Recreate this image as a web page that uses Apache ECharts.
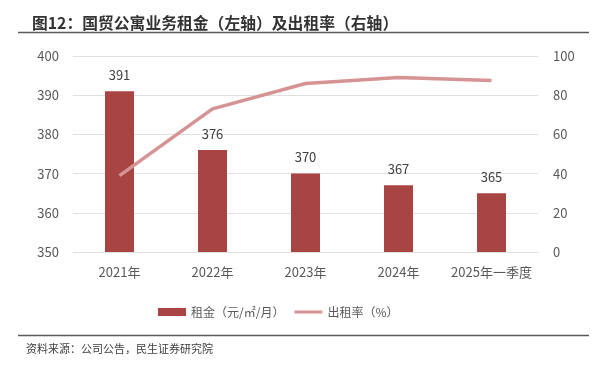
<!DOCTYPE html>
<html><head><meta charset="utf-8">
<script src="https://cdn.jsdelivr.net/npm/echarts@6/dist/echarts.min.js"></script>
<style>html,body{margin:0;padding:0;background:#fff}#c{width:599px;height:367px}</style>
</head><body><div id="c"></div>
<script>
const categories = ['2021年','2022年','2023年','2024年','2025年一季度'];
const rentValues = [391, 376, 370, 367, 365];
const occupancyValues = [39, 73, 86, 89, 87.5];
const leftTicks = {min: 350, max: 400, interval: 10};
const rightTicks = {min: 0, max: 100, interval: 20};

const FONT = '"Microsoft YaHei","Noto Sans CJK SC","Noto Sans",sans-serif';
const chart = echarts.init(document.getElementById('c'), null, {renderer: 'canvas'});
chart.setOption({
  animation: false,
  textStyle: {fontFamily: FONT},
  title: {
    text: '图12：国贸公寓业务租金（左轴）及出租率（右轴）',
    left: 27, top: 10,
    textStyle: {fontSize: 15.8, fontWeight: 'bold', color: '#333', fontFamily: FONT}
  },
  graphic: [
    {type: 'line', shape: {x1: 18, y1: 32.5, x2: 589, y2: 32.5}, style: {stroke: '#595959', lineWidth: 1.5}},
    {type: 'line', shape: {x1: 18, y1: 335.5, x2: 589, y2: 335.5}, style: {stroke: '#595959', lineWidth: 1.5}},
    {type: 'text', left: 26, top: 343, style: {text: '资料来源：公司公告，民生证券研究院', fontSize: 11, fill: '#404040', fontFamily: FONT}}
  ],
  legend: {
    top: 301, left: 153,
    itemGap: 10, itemWidth: 28, itemHeight: 8,
    textStyle: {fontSize: 12, color: '#595959', fontFamily: FONT},
    data: [
      {name: '租金（元/㎡/月）', icon: 'rect'},
      {name: '出租率（%）', icon: 'path://M0,0h28v3h-28z'}
    ]
  },
  grid: {left: 73, right: 61, top: 56, height: 196, containLabel: false},
  xAxis: {
    type: 'category', data: categories,
    axisLine: {show: false}, axisTick: {show: false},
    axisLabel: {fontSize: 13, color: '#595959', margin: 14, interval: 0}
  },
  yAxis: [
    {type: 'value', min: leftTicks.min, max: leftTicks.max, interval: leftTicks.interval,
     axisLine: {show: false}, axisTick: {show: false},
     axisLabel: {fontSize: 13, color: '#595959', margin: 14},
     splitLine: {lineStyle: {color: '#e0e0e0', width: 1}}},
    {type: 'value', min: rightTicks.min, max: rightTicks.max, interval: rightTicks.interval,
     axisLine: {show: false}, axisTick: {show: false},
     axisLabel: {fontSize: 13, color: '#595959', margin: 15},
     splitLine: {show: false}}
  ],
  series: [
    {name: '租金（元/㎡/月）', type: 'bar', data: rentValues, yAxisIndex: 0,
     barWidth: 29,
     itemStyle: {color: '#a84543'},
     label: {show: true, position: 'top', distance: 10, fontSize: 13, color: '#404040'}},
    {name: '出租率（%）', type: 'line', data: occupancyValues, yAxisIndex: 1,
     symbol: 'none', lineStyle: {color: '#d69393', width: 3.5},
     itemStyle: {color: '#d69393'}}
  ]
});
</script></body></html>
